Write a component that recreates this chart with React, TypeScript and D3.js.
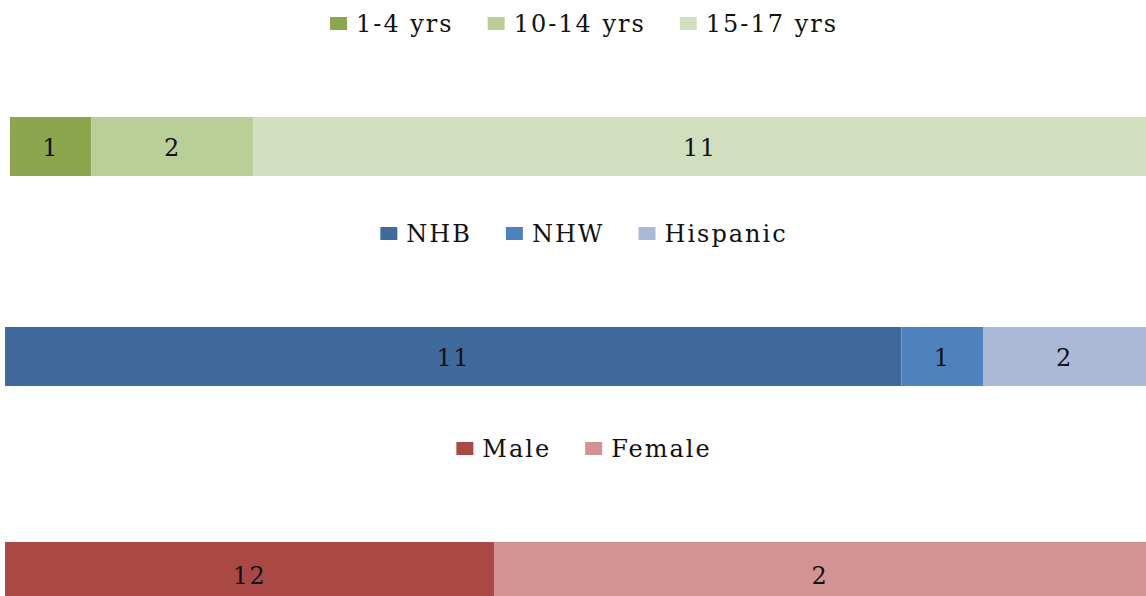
import React, { useEffect, useRef } from "react";
import * as d3 from "d3";

// age groups
const ageCats = ["1-4 yrs", "10-14 yrs", "15-17 yrs"];
const ageVals = [1, 2, 11];
// race / ethnicity
const raceCats = ["NHB", "NHW", "Hispanic"];
const raceVals = [11, 1, 2];
// sex (bar lengths as drawn; the printed labels differ from the drawn lengths)
const sexCats = ["Male", "Female"];
const sexVals = [12, 16];
const sexLabels = ["12", "2"];

const App = () => {
  const svgRef = useRef<SVGSVGElement | null>(null);

  useEffect(() => {
    const width = 1146;
    const height = 596;
    const font = "'DejaVu Serif', serif";

    const svg = d3.select(svgRef.current);
    svg.selectAll("*").remove();
    svg.attr("width", width).attr("height", height);

    const panels = [
      {
        cats: ageCats,
        vals: ageVals,
        labels: ageVals.map(String),
        colors: ["#8ba64d", "#b9cf97", "#d2dfbf"],
        legendY: 24,
        barY: 117,
        x0: 10,
      },
      {
        cats: raceCats,
        vals: raceVals,
        labels: raceVals.map(String),
        colors: ["#416a9c", "#4f81bd", "#aab9d6"],
        legendY: 234,
        barY: 327,
        x0: 5,
      },
      {
        cats: sexCats,
        vals: sexVals,
        labels: sexLabels,
        colors: ["#aa4845", "#d39392"],
        legendY: 449,
        barY: 542,
        x0: 5,
      },
    ];

    const barH = 59;
    const legendCenter = 584;

    panels.forEach((p, pi) => {
      const total = d3.sum(p.vals);
      const x = d3.scaleLinear().domain([0, total]).range([p.x0, width]);
      const starts = p.vals.map((_, i) => d3.sum(p.vals.slice(0, i)));

      const g = svg.append("g");

      // bar segments
      g.selectAll("rect.seg")
        .data(p.vals)
        .enter()
        .append("rect")
        .attr("class", "seg")
        .attr("x", (_, i) => x(starts[i]))
        .attr("y", p.barY)
        .attr("width", (d, i) => x(starts[i] + d) - x(starts[i]))
        .attr("height", barH)
        .attr("fill", (_, i) => p.colors[i]);

      // value labels
      g.selectAll("text.val")
        .data(p.vals)
        .enter()
        .append("text")
        .attr("class", "val")
        .attr("x", (d, i) => (x(starts[i]) + x(starts[i] + d)) / 2)
        .attr("y", p.barY + barH / 2 + 9 + (pi === 2 ? 3 : 0))
        .attr("text-anchor", "middle")
        .style("font-family", font)
        .style("font-size", "24px")
        .style("letter-spacing", "1.5px")
        .style("fill", "#111")
        .text((_, i) => p.labels[i]);

      // legend, measured then centred
      const leg = g.append("g");
      const items = leg
        .selectAll("g.item")
        .data(p.cats)
        .enter()
        .append("g")
        .attr("class", "item");
      items
        .append("rect")
        .attr("y", p.legendY - 7)
        .attr("width", 17)
        .attr("height", 13)
        .attr("fill", (_, i) => p.colors[i]);
      items
        .append("text")
        .attr("x", 26)
        .attr("y", p.legendY + 8)
        .style("font-family", font)
        .style("font-size", "24px")
        .style("letter-spacing", "2px")
        .style("fill", "#111")
        .text((d) => d);

      const widths: number[] = [];
      items.each(function () {
        const t = d3.select(this).select("text").node() as SVGTextElement;
        widths.push(26 + t.getComputedTextLength());
      });
      const gap = 34;
      const totalW = d3.sum(widths) + gap * (widths.length - 1);
      let cx = legendCenter - totalW / 2;
      items.attr("transform", (_, i) => {
        const tx = cx;
        cx += widths[i] + gap;
        return `translate(${tx},0)`;
      });
    });
  }, []);

  return (
    <div style={{ position: "absolute", left: 0, top: 0 }}>
      <svg ref={svgRef} style={{ display: "block", background: "#fff" }}></svg>
    </div>
  );
};

export default App;
